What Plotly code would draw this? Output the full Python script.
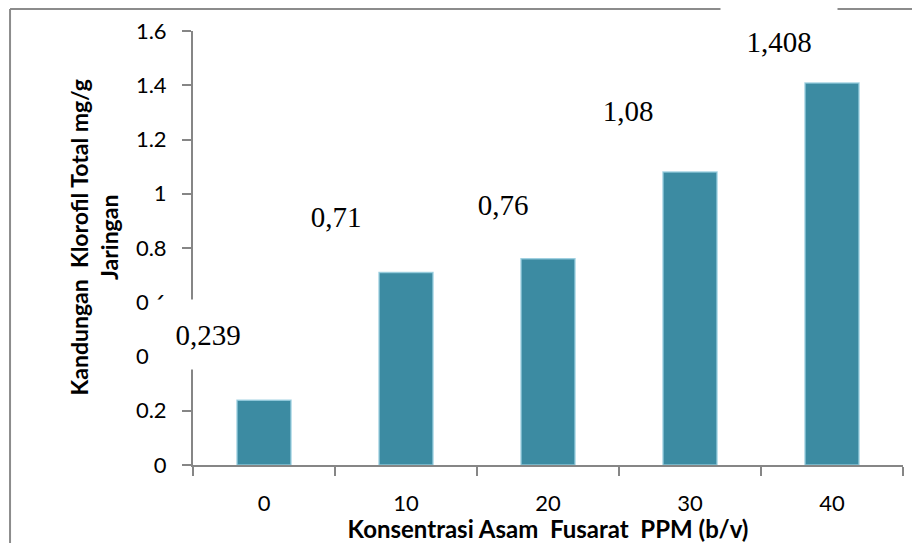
import plotly.graph_objects as go

categories = ["0", "10", "20", "30", "40"]
values = [0.239, 0.71, 0.76, 1.08, 1.408]
value_labels = ["0,239", "0,71", "0,76", "1,08", "1,408"]
y_ticks = [0, 0.2, 0.4, 0.6, 0.8, 1, 1.2, 1.4, 1.6]
y_tick_text = ["0", "0.2", "0.4", "0.6", "0.8", "1", "1.2", "1.4", "1.6"]

# manual label offsets in pixels (as placed in the original)
label_dx = [-56, -70, -45, -62, -53]
label_dy = [66, 56, 54, 62, 42]

BAR = "#3c8ba2"
AXIS = "#868686"

fig = go.Figure()
fig.add_trace(go.Bar(
    x=categories, y=values,
    marker=dict(color=BAR, line=dict(color="rgba(150,205,222,0.85)", width=1.5)),
    showlegend=False,
))

for i, (v, t, dx, dy) in enumerate(zip(values, value_labels, label_dx, label_dy)):
    fig.add_annotation(
        x=i, y=v, text=t, showarrow=False,
        xshift=dx, yshift=dy, xanchor="center", yanchor="middle",
        width=116, height=69, borderpad=0, bgcolor="white",
        font=dict(family="Liberation Serif", size=29, color="black"),
    )

# y-axis title (two lines, rotated)
fig.add_annotation(
    xref="paper", yref="paper", x=-0.139, y=0.525,
    xanchor="center", yanchor="middle", textangle=-90, showarrow=False,
    text="<b>Kandungan  Klorofil Total mg/g<br>Jaringan</b>",
    font=dict(family="Lato", size=23, color="black"),
)

# outer chart border (left and top edges visible)
fig.add_shape(type="line", xref="paper", yref="paper",
              x0=-0.2577, x1=-0.2577, y0=1.0507, y1=-0.4,
              line=dict(color="#8c8c8c", width=2), layer="below")
fig.add_shape(type="line", xref="paper", yref="paper",
              x0=-0.2577, x1=1.1, y0=1.0507, y1=1.0507,
              line=dict(color="#8c8c8c", width=2), layer="below")

fig.update_layout(
    width=912, height=543,
    margin=dict(l=193, r=9, t=31, b=78),
    paper_bgcolor="white", plot_bgcolor="white",
    bargap=0.62,
    font=dict(family="Lato", size=22, color="black"),
    xaxis=dict(
        type="category", tickson="boundaries", range=[-0.5, 4.5],
        autorange=False, automargin=False,
        showline=True, linecolor=AXIS, linewidth=2,
        ticks="outside", ticklen=9, tickwidth=2, tickcolor=AXIS,
        showgrid=False, zeroline=False,
        tickfont=dict(family="Lato", size=22),
        ticklabelstandoff=18,
        title=dict(text="<b>Konsentrasi Asam  Fusarat  PPM (b/v)</b>",
                   font=dict(family="Lato", size=24), standoff=2),
    ),
    yaxis=dict(
        range=[0, 1.6], autorange=False, automargin=False,
        tickvals=y_ticks, ticktext=y_tick_text,
        showline=True, linecolor=AXIS, linewidth=2,
        ticks="outside", ticklen=9, tickwidth=2, tickcolor=AXIS,
        showgrid=False, zeroline=False,
        tickfont=dict(family="Lato", size=22),
        ticklabelstandoff=11,
    ),
)

fig.write_html(
    "out.html",
    config={"displayModeBar": False},
    post_script="document.body.style.margin='0';document.body.style.padding='0';document.body.style.overflow='hidden';",
)
